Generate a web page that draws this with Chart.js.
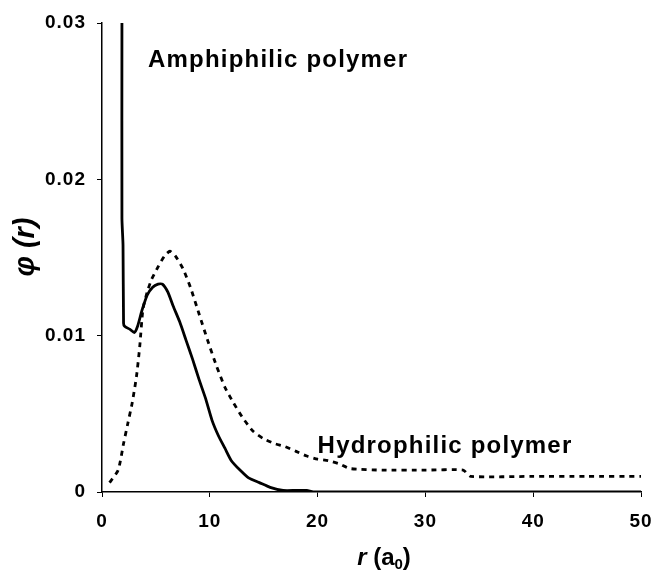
<!DOCTYPE html>
<html>
<head>
<meta charset="utf-8">
<script src="https://cdn.jsdelivr.net/npm/chart.js@4/dist/chart.umd.min.js"></script>
<style>
  html, body { margin: 0; padding: 0; background: #fff; }
  #wrap { width: 652px; height: 576px; position: relative; }
</style>
</head>
<body>
<div id="wrap"><canvas id="chart" width="652" height="576"></canvas></div>
<script>
// r values (a0) and phi(r)
const ampR = [1.85, 1.85, 1.95, 2.0, 2.1, 2.6, 3.0, 3.3, 3.7, 4.2, 4.7, 5.2, 5.6, 6.1, 6.6, 7.2, 7.8, 8.4, 9.0, 9.6, 10.2, 10.8, 11.4, 12.0, 12.8, 13.6, 14.6, 15.6, 16.8, 18.0, 19.0, 19.6, 25, 30, 40, 50];
const ampPhi = [0.03, 0.0175, 0.0158, 0.0108, 0.0106, 0.0104, 0.0102, 0.0106, 0.0116, 0.0126, 0.0131, 0.0133, 0.0133, 0.0128, 0.0119, 0.0109, 0.0097, 0.0085, 0.0072, 0.0060, 0.0046, 0.0036, 0.0028, 0.0020, 0.0014, 0.0009, 0.0006, 0.0003, 0.0001, 0.0001, 0.0001, 0, 0, 0, 0, 0];

const hydR = [0.7, 1.5, 2.0, 2.4, 2.8, 3.2, 3.5, 3.8, 4.2, 4.6, 5.2, 5.8, 6.3, 6.8, 7.5, 8.2, 9.0, 9.8, 10.6, 11.4, 12.2, 13.0, 14.0, 15.0, 16.0, 17.0, 18.0, 19.0, 20.0, 21.0, 22.0, 23.0, 26, 30, 33.5, 34.2, 40, 45, 50];
const hydPhi = [0.0006, 0.0014, 0.0031, 0.0044, 0.0057, 0.0074, 0.0093, 0.0117, 0.0128, 0.0136, 0.0144, 0.0151, 0.0154, 0.0151, 0.0143, 0.0131, 0.0114, 0.0097, 0.0081, 0.0067, 0.0057, 0.0048, 0.0039, 0.0034, 0.0031, 0.0029, 0.0026, 0.0023, 0.0021, 0.0020, 0.0018, 0.0015, 0.0014, 0.0014, 0.0014, 0.0010, 0.0010, 0.0010, 0.0010];

const xTicks = [0, 10, 20, 30, 40, 50];
const yTicks = [0, 0.01, 0.02, 0.03];
const labels = ['Amphiphilic polymer', 'Hydrophilic polymer'];

const FONT = '"Liberation Sans", Arial, sans-serif';

function toPoints(xs, ys) {
  return xs.map((x, i) => ({ x, y: ys[i] }));
}

// a bit of tracking, the original type is set wide
const spacingPlugin = {
  id: 'spacing',
  beforeDraw(chart) {
    chart.ctx.letterSpacing = '1px';
  },
};

// annotations and axis titles drawn on the canvas
const textPlugin = {
  id: 'texts',
  afterDraw(chart) {
    const { ctx } = chart;
    const xs = chart.scales.x;
    const ys = chart.scales.y;
    ctx.save();
    ctx.fillStyle = '#000';
    ctx.letterSpacing = '1.2px';
    ctx.textBaseline = 'alphabetic';
    ctx.textAlign = 'left';
    ctx.font = `bold 24px ${FONT}`;
    ctx.fillText(labels[0], xs.getPixelForValue(4.27), ys.getPixelForValue(0.0272));
    ctx.fillText(labels[1], xs.getPixelForValue(20.0), ys.getPixelForValue(0.0025));

    // x axis title: r (a0)
    ctx.letterSpacing = '0px';
    ctx.textBaseline = 'middle';
    const cx = 384;
    const cy = 558;
    ctx.font = `italic bold 24px ${FONT}`;
    const w1 = ctx.measureText('r ').width;
    ctx.font = `bold 24px ${FONT}`;
    const w2 = ctx.measureText('(a').width;
    ctx.font = `bold 15px ${FONT}`;
    const w3 = ctx.measureText('0').width;
    ctx.font = `bold 24px ${FONT}`;
    const w4 = ctx.measureText(')').width;
    let x = cx - (w1 + w2 + w3 + w4) / 2;
    ctx.font = `italic bold 24px ${FONT}`;
    ctx.fillText('r', x, cy);
    x += w1;
    ctx.font = `bold 24px ${FONT}`;
    ctx.fillText('(a', x, cy);
    x += w2;
    ctx.font = `bold 15px ${FONT}`;
    ctx.fillText('0', x, cy + 7);
    x += w3;
    ctx.font = `bold 24px ${FONT}`;
    ctx.fillText(')', x, cy);

    // y axis title
    ctx.translate(26, 247);
    ctx.rotate(-Math.PI / 2);
    ctx.textAlign = 'center';
    ctx.font = `italic bold 29px ${FONT}`;
    ctx.fillText('φ (r)', 0, 0);
    ctx.restore();
  },
};

new Chart(document.getElementById('chart'), {
  type: 'scatter',
  data: {
    datasets: [
      {
        label: labels[0],
        data: toPoints(ampR, ampPhi),
        showLine: true,
        borderColor: '#000',
        borderWidth: 2.8,
        pointRadius: 0,
        tension: 0.2,
        fill: false,
      },
      {
        label: labels[1],
        data: toPoints(hydR, hydPhi),
        showLine: true,
        borderColor: '#000',
        borderWidth: 2.8,
        borderDash: [5, 5],
        pointRadius: 0,
        tension: 0.2,
        fill: false,
      },
    ],
  },
  options: {
    responsive: false,
    animation: false,
    layout: { padding: { top: 23, right: 11, left: 0, bottom: 0 } },
    plugins: {
      legend: { display: false },
      tooltip: { enabled: false },
    },
    scales: {
      x: {
        type: 'linear',
        min: 0,
        max: 50,
        afterBuildTicks(scale) {
          scale.ticks = xTicks.map((v) => ({ value: v }));
        },
        afterFit(scale) {
          scale.height = 84;
          scale.paddingLeft = 0;
          scale.paddingRight = 0;
        },
        grid: { drawOnChartArea: false, color: '#000', tickLength: 5 },
        border: { color: '#000', width: 1.5 },
        ticks: {
          color: '#000',
          padding: 13,
          maxRotation: 0,
          font: { family: FONT, size: 19, weight: 'bold' },
        },
      },
      y: {
        type: 'linear',
        min: 0,
        max: 0.03,
        afterBuildTicks(scale) {
          scale.ticks = yTicks.map((v) => ({ value: v }));
        },
        afterFit(scale) {
          scale.width = 102;
          scale.paddingTop = 0;
          scale.paddingBottom = 0;
        },
        grid: { drawOnChartArea: false, color: '#000', tickLength: 5 },
        border: { color: '#000', width: 1.5 },
        ticks: {
          color: '#000',
          padding: 11,
          font: { family: FONT, size: 19, weight: 'bold' },
          callback: (v) => (v === 0 ? '0' : v.toFixed(2)),
        },
      },
    },
  },
  plugins: [spacingPlugin, textPlugin],
});
</script>
</body>
</html>
